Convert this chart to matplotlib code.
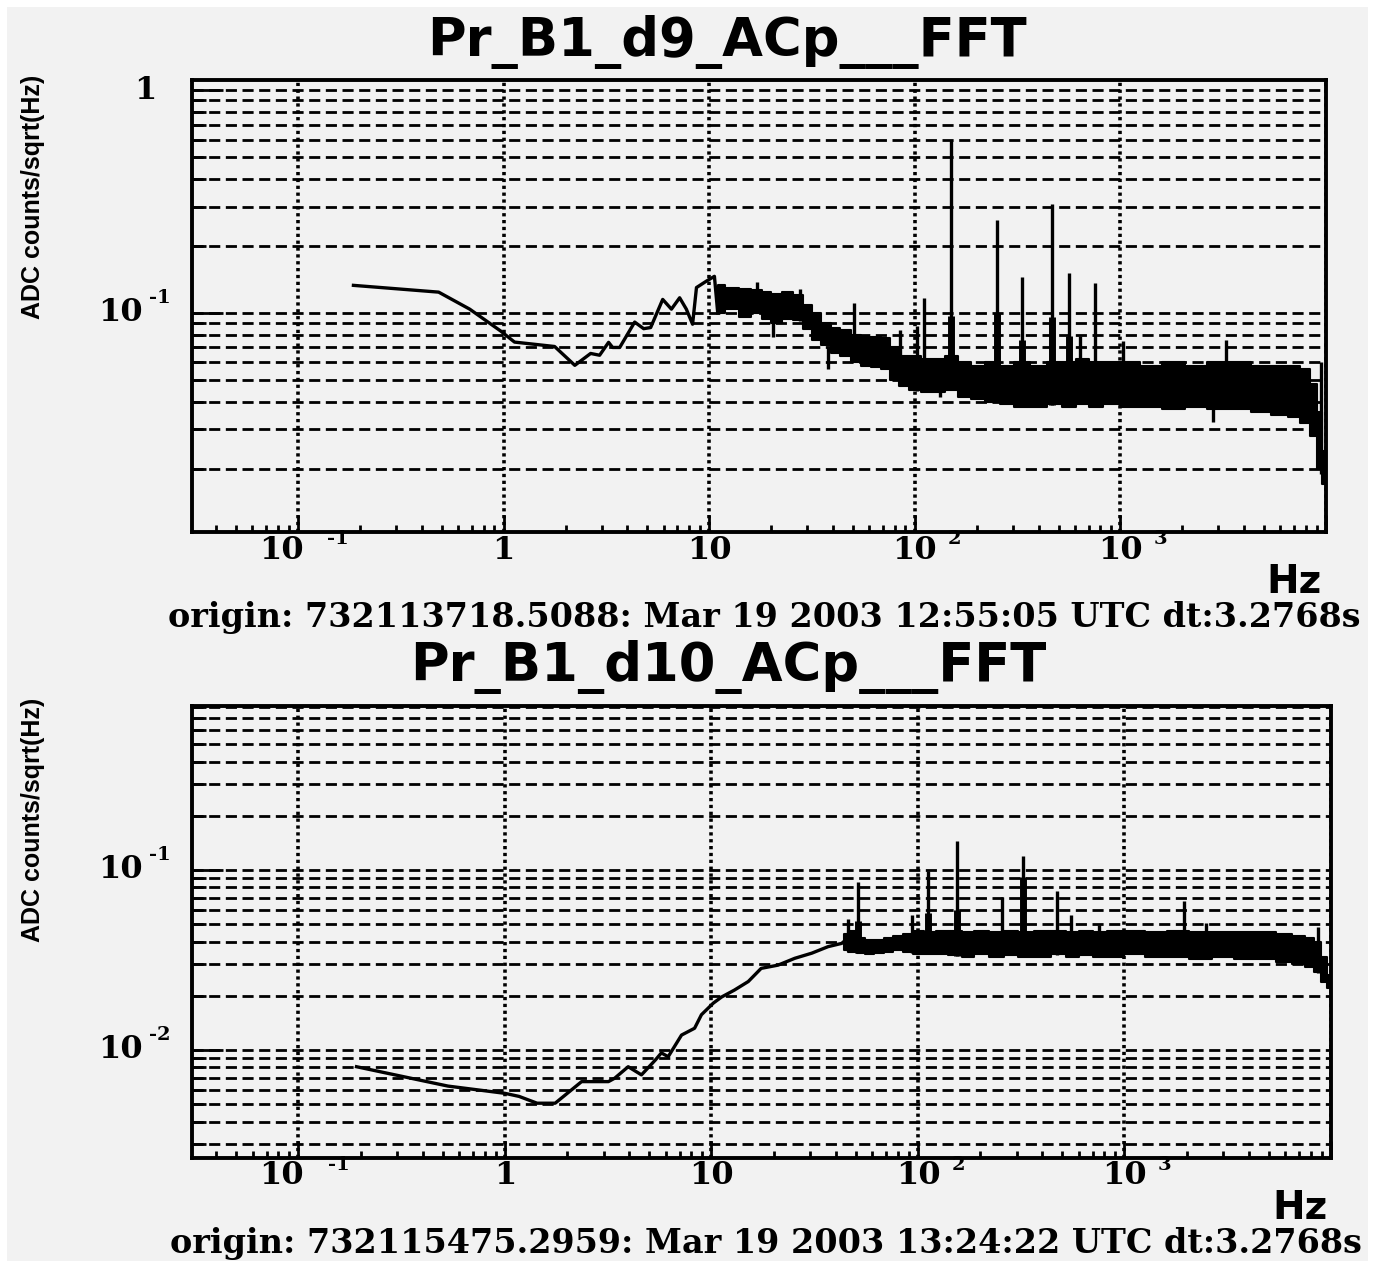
# FFT spectra of two probe channels, ROOT style, two panels
import numpy as np
import matplotlib.pyplot as plt
from matplotlib.patches import Rectangle
from matplotlib.ticker import LogLocator, NullFormatter

# ---- data ----
titles = ['Pr_B1_d9_ACp___FFT', 'Pr_B1_d10_ACp___FFT']
origins = ['origin: 732113718.5088: Mar 19 2003 12:55:05 UTC dt:3.2768s',
           'origin: 732115475.2959: Mar 19 2003 13:24:22 UTC dt:3.2768s']

# panel 1 (d9): low frequency line
top_f = [0.186, 0.483, 0.684, 0.967, 1.13, 1.77, 2.22, 2.65, 2.93, 3.24, 3.39, 3.67,
         4.34, 4.8, 5.19, 5.94, 6.55, 7.18, 7.74, 8.3, 8.67, 9.7, 10.6, 11.0]
top_v = [0.133, 0.124, 0.104, 0.083, 0.074, 0.0707, 0.0582, 0.0658, 0.0646, 0.0738, 0.070, 0.070,
         0.091, 0.085, 0.086, 0.115, 0.104, 0.117, 0.104, 0.089, 0.130, 0.139, 0.146, 0.100]
# panel 1: noise band (lower / upper envelope)
top_band_f = [11, 13, 15, 17, 19, 21, 24, 27, 30, 33, 37, 41, 46, 52, 58, 65, 72, 80, 88, 100,
              115, 130, 150, 175, 200, 240, 280, 330, 400, 480, 560, 650, 750, 900, 1100, 1400,
              1800, 2300, 3000, 3800, 4800, 6000, 7000, 8000, 8700, 9300, 9900]
top_band_hi = [0.134, 0.130, 0.128, 0.127, 0.124, 0.122, 0.124, 0.120, 0.108, 0.100,
               0.090, 0.086, 0.084, 0.080, 0.078, 0.078, 0.077, 0.070, 0.064, 0.064,
               0.062, 0.062, 0.064, 0.060, 0.058, 0.060, 0.058, 0.060, 0.058, 0.060,
               0.060, 0.062, 0.060, 0.060, 0.060, 0.058, 0.060, 0.058, 0.060, 0.060,
               0.058, 0.058, 0.058, 0.056, 0.048, 0.036, 0.024]
top_band_lo = [0.100, 0.104, 0.096, 0.100, 0.094, 0.090, 0.094, 0.093, 0.085, 0.076,
               0.072, 0.066, 0.064, 0.060, 0.058, 0.057, 0.056, 0.050, 0.047, 0.045,
               0.044, 0.044, 0.045, 0.042, 0.041, 0.040, 0.039, 0.038, 0.038, 0.039,
               0.038, 0.039, 0.038, 0.039, 0.038, 0.038, 0.037, 0.038, 0.037, 0.037,
               0.036, 0.035, 0.034, 0.032, 0.028, 0.020, 0.017]
top_spike_f = [17, 27.5, 50.5, 85, 102, 111, 150, 250, 333, 465, 565, 636, 755, 1030, 3250, 9500]
top_spike_v = [0.137, 0.128, 0.111, 0.084, 0.087, 0.117, 0.60, 0.26, 0.145, 0.307, 0.151,
               0.079, 0.136, 0.075, 0.076, 0.060]
top_base_f = [150, 250, 333, 465, 565]
top_base_v = [0.097, 0.100, 0.076, 0.096, 0.079]
top_dip_f = [20.4, 37.7, 133, 2830]
top_dip_v = [0.078, 0.056, 0.042, 0.0325]

# panel 2 (d10)
bot_f = [0.191, 0.529, 1.0, 1.17, 1.43, 1.75, 2.35, 2.8, 3.17, 3.4, 3.95, 4.58, 5.35, 5.72,
         6.17, 7.16, 8.28, 8.94, 10.2, 11.2, 12.9, 15.07, 17.4, 21.0, 25.3, 30.6, 36.7, 42.7, 46]
bot_v = [0.00807, 0.0063, 0.00574, 0.00552, 0.00506, 0.00506, 0.00667, 0.00667, 0.00667,
         0.00697, 0.00807, 0.00727, 0.0088, 0.00963, 0.00917, 0.0121, 0.0132, 0.0157, 0.0182,
         0.0197, 0.0215, 0.024, 0.0284, 0.0296, 0.0323, 0.0345, 0.0375, 0.0391, 0.042]
bot_band_f = [44, 48, 53, 58, 65, 72, 80, 90, 100, 115, 130, 150, 175, 200, 240, 280, 330, 400,
              480, 560, 650, 750, 900, 1100, 1400, 1800, 2300, 3000, 3800, 4800, 6000, 7000,
              8000, 8600, 9200, 9900]
bot_band_hi = [0.044, 0.046, 0.042, 0.041, 0.041, 0.042, 0.043, 0.044, 0.046, 0.045,
               0.046, 0.046, 0.045, 0.046, 0.045, 0.046, 0.045, 0.046, 0.046, 0.045,
               0.046, 0.045, 0.046, 0.046, 0.045, 0.046, 0.045, 0.045, 0.045, 0.045,
               0.044, 0.043, 0.042, 0.040, 0.033, 0.026]
bot_band_lo = [0.036, 0.035, 0.0345, 0.034, 0.0345, 0.035, 0.036, 0.035, 0.034, 0.034,
               0.034, 0.0335, 0.033, 0.034, 0.033, 0.0335, 0.033, 0.033, 0.034, 0.033,
               0.0335, 0.033, 0.033, 0.034, 0.033, 0.033, 0.032, 0.033, 0.032, 0.032,
               0.031, 0.030, 0.029, 0.027, 0.024, 0.022]
bot_spike_f = [45.6, 51.3, 94, 112, 154, 256, 324, 470, 550, 755, 1950, 2490, 8640]
bot_spike_v = [0.0534, 0.0855, 0.0562, 0.099, 0.145, 0.071, 0.119, 0.0767, 0.0562, 0.0495,
               0.0675, 0.0508, 0.0484]
bot_base_f = [51.3, 112, 154, 324]
bot_base_v = [0.052, 0.058, 0.060, 0.092]

W, H = 1382, 1261
fig = plt.figure(figsize=(W / 100, H / 100), dpi=100, facecolor='white')
fig.patches.append(Rectangle((7 / W, 0), (1368 - 7) / W, 1 - 7 / H, transform=fig.transFigure,
                             facecolor='#f2f2f2', edgecolor='none', zorder=-10))

serif = dict(family='DejaVu Serif', weight='bold')
sans = dict(family='DejaVu Sans', weight='bold')


def style(ax, ylim):
    ax.set_facecolor('#f2f2f2')
    ax.set_xscale('log')
    ax.set_yscale('log')
    ax.set_xlim(0.0305, 10000)
    ax.set_ylim(*ylim)
    ax.xaxis.set_major_locator(LogLocator(base=10, numticks=20))
    ax.xaxis.set_minor_locator(LogLocator(base=10, subs=np.arange(2, 10), numticks=20))
    ax.yaxis.set_major_locator(LogLocator(base=10, numticks=20))
    ax.yaxis.set_minor_locator(LogLocator(base=10, subs=np.arange(2, 10), numticks=20))
    for a in (ax.xaxis, ax.yaxis):
        a.set_major_formatter(NullFormatter())
        a.set_minor_formatter(NullFormatter())
    ax.tick_params(axis='x', which='major', direction='in', length=12, width=2, top=False)
    ax.tick_params(axis='x', which='minor', direction='in', length=5, width=2, top=False)
    ax.tick_params(axis='y', which='major', direction='in', length=22, width=2, right=False)
    ax.tick_params(axis='y', which='minor', direction='in', length=10, width=2, right=False)
    ax.grid(True, which='major', axis='x', color='black', linestyle=(0, (0.9, 1.0)), linewidth=2.6)
    ax.grid(True, which='both', axis='y', color='black', linestyle=(0, (4, 2)), linewidth=2.0)
    ax.set_axisbelow(True)
    for s in ax.spines.values():
        s.set_linewidth(2.8)


def draw(ax, lf, lv, bf, blo, bhi, sf, sv, basef, basev, dipf=None, dipv=None):
    ax.plot(lf, lv, color='black', lw=2.4, zorder=3)
    ax.fill_between(bf, blo, bhi, step='mid', color='black', lw=1.5, zorder=3)
    lo_at = np.interp(np.log10(sf), np.log10(bf), blo)
    ax.vlines(sf, lo_at, sv, color='black', lw=2.4, zorder=3)
    lo_b = np.interp(np.log10(basef), np.log10(bf), blo)
    ax.vlines(basef, lo_b, basev, color='black', lw=5, zorder=3)
    if dipf:
        lo_d = np.interp(np.log10(dipf), np.log10(bf), blo)
        ax.vlines(dipf, dipv, lo_d, color='black', lw=2.4, zorder=3)


def xlabels(ax):
    trans = ('data', 'axes fraction')
    for f, base, sup, dx in [(0.1, '10', '-1', -17), (1, '1', None, 0), (10, '10', None, 0),
                             (100, '10', '2', 0), (1000, '10', '3', 0)]:
        ax.annotate(base, (f, 0), xycoords=trans, xytext=(dx, -18), textcoords='offset pixels',
                    ha='center', va='center', fontsize=23, **serif)
        if sup:
            ax.annotate(sup, (f, 0), xycoords=trans, xytext=(40, -7), textcoords='offset pixels',
                        ha='center', va='center', fontsize=14, zorder=5, **serif)


def ylabel_ticks(ax, ticks):
    trans = ('axes fraction', 'data')
    for v, base, sup in ticks:
        dx = -36 if sup is None else -49
        ax.annotate(base, (0, v), xycoords=trans, xytext=(dx, 0), textcoords='offset pixels',
                    ha='right', va='center', fontsize=23, **serif)
        if sup:
            ax.annotate(sup, (0, v), xycoords=trans, xytext=(-32, 15), textcoords='offset pixels',
                        ha='center', va='center', fontsize=14, **serif)


# ---- top panel ----
ax1 = fig.add_axes([192 / W, 1 - 532 / H, (1326 - 192) / W, (532 - 80) / H])
style(ax1, (0.0104, 1.11))
draw(ax1, top_f, top_v, top_band_f, top_band_lo, top_band_hi, top_spike_f, top_spike_v,
     top_base_f, top_base_v, top_dip_f, top_dip_v)
xlabels(ax1)
ylabel_ticks(ax1, [(1, '1', None), (0.1, '10', '-1')])

# ---- bottom panel ----
ax2 = fig.add_axes([192 / W, 1 - 1158 / H, (1331 - 192) / W, (1158 - 706) / H])
style(ax2, (0.00251, 0.815))
draw(ax2, bot_f, bot_v, bot_band_f, bot_band_lo, bot_band_hi, bot_spike_f, bot_spike_v,
     bot_base_f, bot_base_v)
xlabels(ax2)
ylabel_ticks(ax2, [(0.1, '10', '-1'), (0.01, '10', '-2')])

# ---- titles and labels ----
fig.text(727 / W, 1 - 42 / H, titles[0], ha='center', va='center', fontsize=38, **sans)
fig.text(728 / W, 1 - 667 / H, titles[1], ha='center', va='center', fontsize=38, **sans)
fig.text(33 / W, 1 - 197 / H, 'ADC counts/sqrt(Hz)', rotation=90, ha='center', va='center',
         fontsize=18, family='Liberation Sans', weight='bold')
fig.text(33 / W, 1 - 820 / H, 'ADC counts/sqrt(Hz)', rotation=90, ha='center', va='center',
         fontsize=18, family='Liberation Sans', weight='bold')
fig.text(1322 / W, 1 - 582 / H, 'Hz', ha='right', va='center', fontsize=28, **sans)
fig.text(1328 / W, 1 - 1208 / H, 'Hz', ha='right', va='center', fontsize=28, **sans)
fig.text(1360 / W, 1 - 617 / H, origins[0], ha='right', va='center', fontsize=24, **serif)
fig.text(1362 / W, 1 - 1243 / H, origins[1], ha='right', va='center', fontsize=24, **serif)

fig.savefig('out.png', dpi=100, facecolor=fig.get_facecolor())
